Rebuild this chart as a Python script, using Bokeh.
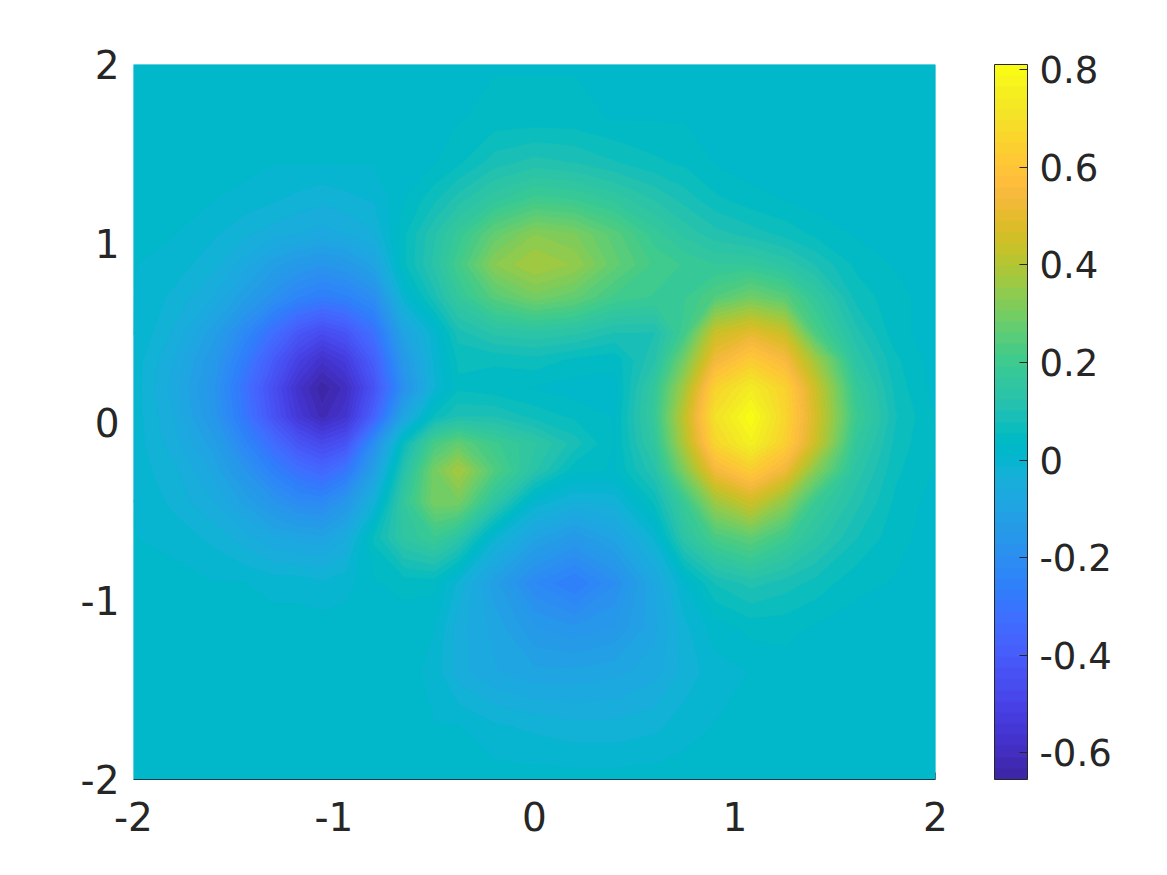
from bokeh.plotting import figure
from bokeh.models import LinearColorMapper, ColorBar, FixedTicker, LinearAxis, Range1d
from bokeh.embed import file_html
from bokeh.resources import INLINE
import numpy as np

x_ticks = [-2, -1, 0, 1, 2]
y_ticks = [-2, -1, 0, 1, 2]
x_labels = ["-2", "-1", "0", "1", "2"]
y_labels = ["-2", "-1", "0", "1", "2"]
cb_ticks = [-0.6, -0.4, -0.2, 0, 0.2, 0.4, 0.6, 0.8]
cb_labels = ["-0.6", "-0.4", "-0.2", "0", "0.2", "0.4", "0.6", "0.8"]

grid_x = [-2.0,-1.8,-1.6,-1.45,-1.3,-1.18,-1.06,-0.94,-0.8,-0.65,-0.5,-0.38,-0.2,0.0,0.2,0.4,0.6,0.75,0.9,1.08,1.25,1.4,1.6,1.8,2.0]
grid_y = [2.0,1.7,1.45,1.25,1.05,0.88,0.7,0.5,0.35,0.19,0.03,-0.12,-0.27,-0.45,-0.65,-0.9,-1.15,-1.4,-1.7,-2.0]

# values, one row per grid_y, one column per grid_x
z_top_down = [
 [.02,.02,.02,.02,.02,.02,.02,.02,.02,.02,.02,.02,.03,.03,.03,.03,.02,.02,.02,.02,.02,.02,.02,.02,.02],
 [.02,.02,.02,.02,.02,.02,.02,.02,.02,.02,.02,.03,.04,.04,.04,.03,.03,.03,.02,.02,.02,.02,.02,.02,.02],
 [.02,.02,.02,.02,.01,.01,.01,.01,.01,.02,.03,.05,.09,.11,.10,.08,.06,.05,.03,.02,.01,.01,.01,.01,.02],
 [.02,.02,.01,.00,-.01,-.02,-.03,-.02,-.01,.03,.07,.11,.16,.20,.19,.16,.12,.09,.06,.04,.03,.02,.01,.01,.02],
 [.02,.01,-.01,-.03,-.05,-.06,-.07,-.06,-.04,.05,.12,.18,.27,.33,.31,.25,.18,.14,.11,.09,.07,.05,.03,.02,.02],
 [.01,.00,-.03,-.07,-.12,-.15,-.17,-.15,-.10,.05,.13,.21,.33,.38,.35,.27,.21,.19,.17,.17,.14,.10,.05,.03,.02],
 [.01,-.02,-.06,-.12,-.19,-.24,-.27,-.25,-.20,.00,.09,.17,.25,.30,.27,.21,.19,.19,.24,.29,.25,.17,.07,.04,.02],
 [.01,-.04,-.12,-.22,-.33,-.42,-.47,-.43,-.32,-.10,.00,.09,.13,.14,.13,.10,.10,.21,.44,.50,.44,.23,.11,.04,.02],
 [.00,-.06,-.15,-.27,-.41,-.51,-.58,-.53,-.39,-.15,-.01,.06,.06,.07,.05,.04,.12,.30,.53,.62,.55,.37,.14,.06,.02],
 [.00,-.07,-.17,-.31,-.46,-.58,-.65,-.60,-.44,-.19,-.02,.05,.04,.03,.02,.02,.17,.38,.65,.74,.65,.45,.18,.07,.02],
 [.00,-.06,-.16,-.29,-.44,-.55,-.62,-.57,-.38,-.09,.06,.10,.10,.07,.05,.03,.18,.43,.70,.81,.66,.47,.20,.08,.03],
 [.00,-.05,-.12,-.23,-.34,-.43,-.48,-.44,-.20,.06,.22,.27,.20,.15,.09,.03,.16,.40,.66,.76,.64,.45,.17,.07,.03],
 [.00,-.03,-.09,-.17,-.26,-.32,-.36,-.30,-.12,.12,.30,.38,.24,.13,.04,.03,.12,.32,.54,.63,.53,.33,.14,.06,.03],
 [.01,-.02,-.06,-.11,-.17,-.21,-.22,-.16,-.03,.17,.30,.30,.15,.00,-.04,-.03,.06,.19,.36,.45,.34,.19,.11,.05,.02],
 [.01,.00,-.02,-.05,-.08,-.09,-.10,-.06,.06,.15,.19,.14,-.01,-.10,-.15,-.10,-.01,.14,.22,.26,.20,.14,.08,.04,.02],
 [.02,.02,.01,.01,.00,.00,-.01,.00,.03,.04,.04,-.02,-.12,-.22,-.27,-.20,-.08,.01,.08,.11,.09,.07,.04,.03,.02],
 [.02,.02,.02,.02,.02,.02,.02,.02,.02,.02,.01,-.05,-.09,-.15,-.17,-.15,-.09,-.02,.02,.04,.04,.03,.02,.02,.02],
 [.02,.02,.02,.02,.02,.02,.02,.02,.02,.02,.00,-.05,-.08,-.10,-.10,-.09,-.07,-.03,.00,.01,.02,.02,.02,.02,.02],
 [.02,.02,.02,.02,.02,.02,.02,.02,.02,.02,.01,.01,-.01,-.02,-.03,-.03,-.02,.00,.01,.02,.02,.02,.02,.02,.02],
 [.02,.02,.02,.02,.02,.02,.02,.02,.02,.02,.02,.02,.02,.02,.02,.02,.02,.02,.02,.02,.02,.02,.02,.02,.02],
]

parula = [
(0.2422,0.1504,0.6603),(0.2504,0.1650,0.7076),(0.2578,0.1818,0.7511),(0.2647,0.1978,0.7952),
(0.2706,0.2147,0.8364),(0.2751,0.2342,0.8710),(0.2783,0.2559,0.8991),(0.2803,0.2782,0.9221),
(0.2813,0.3006,0.9414),(0.2810,0.3228,0.9579),(0.2795,0.3447,0.9717),(0.2760,0.3667,0.9829),
(0.2699,0.3892,0.9906),(0.2602,0.4123,0.9952),(0.2440,0.4358,0.9988),(0.2206,0.4603,0.9973),
(0.1963,0.4847,0.9892),(0.1834,0.5074,0.9798),(0.1786,0.5289,0.9682),(0.1764,0.5499,0.9520),
(0.1687,0.5703,0.9359),(0.1540,0.5902,0.9218),(0.1460,0.6091,0.9079),(0.1380,0.6276,0.8973),
(0.1248,0.6459,0.8883),(0.1113,0.6635,0.8763),(0.0952,0.6798,0.8598),(0.0689,0.6948,0.8394),
(0.0297,0.7082,0.8163),(0.0036,0.7203,0.7917),(0.0067,0.7312,0.7660),(0.0433,0.7411,0.7394),
(0.0964,0.7500,0.7120),(0.1408,0.7584,0.6842),(0.1717,0.7670,0.6554),(0.1938,0.7758,0.6251),
(0.2161,0.7843,0.5923),(0.2470,0.7918,0.5567),(0.2906,0.7973,0.5188),(0.3406,0.8008,0.4789),
(0.3909,0.8029,0.4354),(0.4456,0.8024,0.3909),(0.5044,0.7993,0.3480),(0.5616,0.7942,0.3045),
(0.6174,0.7876,0.2612),(0.6720,0.7793,0.2227),(0.7242,0.7698,0.1910),(0.7738,0.7598,0.1646),
(0.8203,0.7498,0.1535),(0.8634,0.7406,0.1596),(0.9035,0.7330,0.1774),(0.9393,0.7288,0.2100),
(0.9728,0.7298,0.2394),(0.9956,0.7434,0.2371),(0.9970,0.7659,0.2199),(0.9952,0.7893,0.2028),
(0.9892,0.8136,0.1885),(0.9786,0.8386,0.1766),(0.9676,0.8639,0.1643),(0.9610,0.8890,0.1537),
(0.9597,0.9135,0.1423),(0.9628,0.9373,0.1265),(0.9691,0.9606,0.1064),(0.9769,0.9839,0.0805),
]
palette = ["#%02x%02x%02x" % tuple(int(round(c * 255)) for c in rgb) for rgb in parula]

FONT = "DejaVu Sans"
TXT = "#262626"
LOW, HIGH = -0.655, 0.811

mapper = LinearColorMapper(palette=palette, low=LOW, high=HIGH)

p = figure(frame_width=802, frame_height=715, x_range=Range1d(-2, 2), y_range=Range1d(-2, 2),
           output_backend="svg", toolbar_location=None,
           min_border_left=133, min_border_right=228, min_border_top=64, min_border_bottom=92,
           outline_line_color=None, background_fill_color=palette[29], border_fill_color="white")
p.grid.visible = False

z = np.array(z_top_down, dtype=float)
levels = list(np.linspace(LOW, HIGH, len(palette) + 1))
p.contour(grid_x, grid_y, z, levels, fill_color=palette, line_color=palette + [palette[-1]], line_width=1)

ax = p.xaxis[0]
ay = p.yaxis[0]
ax.ticker = FixedTicker(ticks=x_ticks)
ay.ticker = FixedTicker(ticks=y_ticks)
ax.major_label_overrides = dict(zip(x_ticks, x_labels))
ay.major_label_overrides = dict(zip(y_ticks, y_labels))
for a in (ax, ay):
    a.major_label_text_font = FONT
    a.major_label_text_font_size = "39px"
    a.major_label_text_color = TXT
    a.major_tick_line_color = None
    a.minor_tick_line_color = None
ax.axis_line_color = "#0d3f4f"
ay.axis_line_color = None
ax.major_label_standoff = 16
ay.major_label_standoff = 8

corner = LinearAxis(ticker=FixedTicker(ticks=[2]), fixed_location=-2,
                    major_label_overrides={2: ""}, major_label_text_font_size="1px",
                    major_tick_in=7, major_tick_out=0, major_tick_line_color=TXT,
                    minor_tick_line_color=None, axis_line_color=None)
p.add_layout(corner, "below")

cb = ColorBar(color_mapper=mapper, ticker=FixedTicker(ticks=cb_ticks),
              major_label_overrides=dict(zip(cb_ticks, cb_labels)),
              width=33, height=715, location=(861, 0), padding=0, margin=0,
              bar_line_color=TXT, bar_line_width=1,
              major_tick_line_color=TXT, major_tick_in=8, major_tick_out=0,
              minor_tick_line_color=None,
              major_label_text_font=FONT, major_label_text_font_size="37px",
              major_label_text_color=TXT, label_standoff=12,
              background_fill_color=None, border_line_color=None)
p.add_layout(cb, "center")

open("out.html", "w").write(file_html(p, INLINE))
